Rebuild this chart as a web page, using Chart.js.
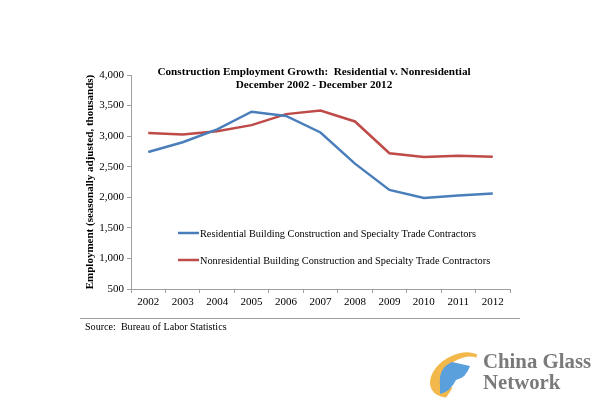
<!DOCTYPE html>
<html>
<head>
<meta charset="utf-8">
<script src="https://cdn.jsdelivr.net/npm/chart.js@4"></script>
<style>
  html, body { margin: 0; padding: 0; background: #fff; }
  #wrap { width: 600px; height: 400px; position: relative; }
</style>
</head>
<body>
<div id="wrap"><canvas id="myChart" width="600" height="400"></canvas></div>
<script>
var years = ['2002', '2003', '2004', '2005', '2006', '2007', '2008', '2009', '2010', '2011', '2012'];
var residential = [2740, 2900, 3110, 3400, 3330, 3060, 2550, 2120, 1990, 2030, 2060];
var nonresidential = [3050, 3025, 3080, 3180, 3360, 3420, 3240, 2720, 2660, 2680, 2665];
var titleLines = ['Construction Employment Growth:  Residential v. Nonresidential', 'December 2002 - December 2012'];
var serif = '"Liberation Serif", "Times New Roman", serif';

// draws title, legend inside the plot, source note and the watermark
var extras = {
    id: 'extras',
    afterDraw: function(chart) {
        var c = chart.ctx;
        c.save();
        c.fillStyle = '#000';
        c.textAlign = 'center';
        c.textBaseline = 'middle';
        c.font = 'bold 11.2px ' + serif;
        c.fillText(titleLines[0], 314, 72);
        c.fillText(titleLines[1], 314, 85);

        // legend
        c.textAlign = 'left';
        c.font = '10.3px ' + serif;
        var ys = [233, 260];
        chart.data.datasets.forEach(function(ds, i) {
            c.strokeStyle = ds.borderColor;
            c.lineWidth = 2.5;
            c.beginPath();
            c.moveTo(178, ys[i]);
            c.lineTo(199, ys[i]);
            c.stroke();
            c.fillStyle = '#000';
            c.fillText(ds.label, 200, ys[i] + 1);
        });

        // separator and source
        c.strokeStyle = '#a0a0a0';
        c.lineWidth = 1;
        c.beginPath();
        c.moveTo(80, 318.5);
        c.lineTo(520, 318.5);
        c.stroke();
        c.fillStyle = '#000';
        c.font = '10.1px ' + serif;
        c.fillText('Source:  Bureau of Labor Statistics', 85, 327);

        // watermark
        c.fillStyle = '#f2b84b';
        c.beginPath();
        c.ellipse(458, 375, 30, 20, -0.5, Math.PI * 0.75, Math.PI * 1.85);
        c.ellipse(462, 372, 22, 13, -0.5, Math.PI * 1.85, Math.PI * 0.75, true);
        c.closePath();
        c.fill();
        c.fillStyle = '#5aa0dc';
        c.beginPath();
        c.moveTo(440, 385);
        c.quadraticCurveTo(438, 368, 452, 362);
        c.lineTo(470, 366);
        c.quadraticCurveTo(466, 378, 456, 380);
        c.quadraticCurveTo(450, 392, 440, 394);
        c.closePath();
        c.fill();
        c.fillStyle = '#7a7a7a';
        c.font = 'bold 20.8px ' + serif;
        c.fillText('China Glass', 483, 363);
        c.fillText('Network', 483, 384);
        c.restore();
    }
};

var ctx = document.getElementById('myChart').getContext('2d');
var myChart = new Chart(ctx, {
    type: 'line',
    data: {
        labels: years,
        datasets: [{
            label: 'Residential Building Construction and Specialty Trade Contractors',
            data: residential,
            borderColor: '#4a7ebb',
            backgroundColor: '#4a7ebb',
            borderWidth: 2.5,
            pointRadius: 0,
            tension: 0
        }, {
            label: 'Nonresidential Building Construction and Specialty Trade Contractors',
            data: nonresidential,
            borderColor: '#be4b48',
            backgroundColor: '#be4b48',
            borderWidth: 2.5,
            pointRadius: 0,
            tension: 0
        }]
    },
    options: {
        responsive: false,
        animation: false,
        layout: {
            padding: { left: 75, top: 75, right: 90, bottom: 85 }
        },
        plugins: {
            legend: { display: false },
            title: { display: false },
            tooltip: { enabled: false }
        },
        scales: {
            x: {
                offset: true,
                afterFit: function(s) { s.height = 26; },
                grid: {
                    offset: true,
                    drawOnChartArea: false,
                    tickLength: 4,
                    color: '#a0a0a0'
                },
                border: { color: '#a0a0a0' },
                ticks: {
                    color: '#000',
                    font: { family: serif, size: 11 },
                    maxRotation: 0,
                    padding: 3
                }
            },
            y: {
                min: 500,
                max: 4000,
                afterFit: function(s) { s.width = 56; },
                grid: {
                    drawOnChartArea: false,
                    tickLength: 4,
                    color: '#a0a0a0'
                },
                border: { color: '#a0a0a0' },
                title: {
                    display: true,
                    text: 'Employment (seasonally adjusted, thousands)',
                    color: '#000',
                    font: { family: serif, size: 11, weight: 'bold' },
                    padding: { top: 9, bottom: 0 }
                },
                ticks: {
                    stepSize: 500,
                    color: '#000',
                    font: { family: serif, size: 11 },
                    padding: 3,
                    callback: function(v) { return v.toLocaleString('en-US'); }
                }
            }
        }
    },
    plugins: [extras]
});
</script>
</body>
</html>
